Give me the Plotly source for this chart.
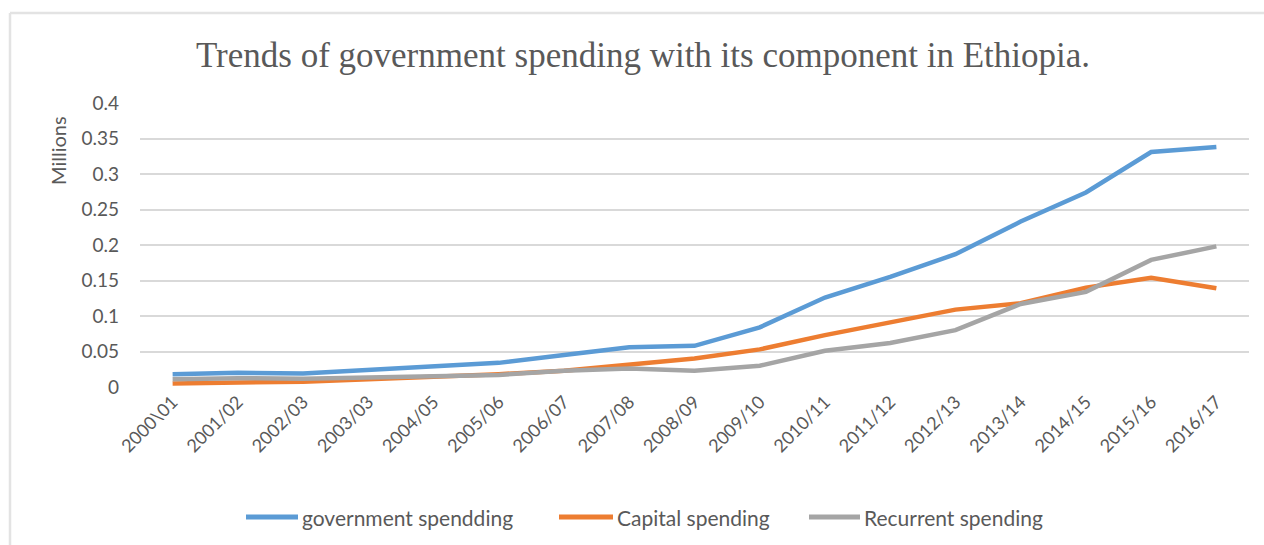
import plotly.graph_objects as go

# Fiscal years (Ethiopian budget years)
years = ["2000\\01", "2001/02", "2002/03", "2003/03", "2004/05", "2005/06",
         "2006/07", "2007/08", "2008/09", "2009/10", "2010/11", "2011/12",
         "2012/13", "2013/14", "2014/15", "2015/16", "2016/17"]

# Spending, in millions
government_spending = [0.018, 0.020, 0.019, 0.024, 0.028, 0.034, 0.045, 0.056, 0.058,
                       0.084, 0.126, 0.155, 0.187, 0.233, 0.274, 0.331, 0.338]
capital_spending = [0.005, 0.0055, 0.0075, 0.011, 0.014, 0.018, 0.023, 0.031, 0.040,
                    0.053, 0.073, 0.091, 0.109, 0.118, 0.140, 0.154, 0.139]
recurrent_spending = [0.011, 0.0125, 0.0115, 0.014, 0.015, 0.017, 0.023, 0.026, 0.023,
                      0.030, 0.051, 0.062, 0.080, 0.117, 0.134, 0.179, 0.198]

y_ticks = [0, 0.05, 0.1, 0.15, 0.2, 0.25, 0.3, 0.35, 0.4]

series_names = ["government spendding", "Capital spending", "Recurrent spending"]
series_colors = ["#5B9BD5", "#ED7D31", "#A5A5A5"]
series_values = [government_spending, capital_spending, recurrent_spending]

W, H = 1264, 545
L, R, T, B = 140, 15, 103, 158
pw, ph = W - L - R, H - T - B

def px_x(x):
    return (x - L) / pw

def px_y(y):
    return (H - B - y) / ph

text_col = "#595959"
font_ui = "Lato, Open Sans, sans-serif"

fig = go.Figure()
for name, vals, col in zip(series_names, series_values, series_colors):
    fig.add_trace(go.Scatter(x=years, y=vals, name=name, mode="lines",
                             line=dict(color=col, width=4.5), showlegend=False))

# Legend row at the bottom: swatch line + label for each series
legend_rows = [(246, 298), (559, 613), (809, 860)]
legend_y = 517
shapes = []
annotations = []
for (x0, x1), name, col in zip(legend_rows, series_names, series_colors):
    shapes.append(dict(type="line", xref="paper", yref="paper",
                       x0=px_x(x0), x1=px_x(x1), y0=px_y(legend_y), y1=px_y(legend_y),
                       line=dict(color=col, width=5)))
    annotations.append(dict(text=name, x=px_x(x1 + 2), y=px_y(legend_y),
                            xref="paper", yref="paper", xanchor="left", yanchor="middle",
                            showarrow=False,
                            font=dict(family=font_ui, size=21, color=text_col)))

# Chart frame (top and left edges visible)
shapes.append(dict(type="line", xref="paper", yref="paper", x0=px_x(10), x1=px_x(W + 5),
                   y0=px_y(13), y1=px_y(13), line=dict(color="#e3e3e3", width=2.5)))
shapes.append(dict(type="line", xref="paper", yref="paper", x0=px_x(10), x1=px_x(10),
                   y0=px_y(13), y1=px_y(H + 5), line=dict(color="#e3e3e3", width=2.5)))

annotations.append(dict(text="Millions", textangle=-90, x=px_x(58), y=px_y(151),
                        xref="paper", yref="paper", xanchor="center", yanchor="middle",
                        showarrow=False,
                        font=dict(family=font_ui, size=20, color=text_col)))

fig.update_layout(
    width=W, height=H,
    margin=dict(l=L, r=R, t=T, b=B),
    paper_bgcolor="white", plot_bgcolor="white",
    title=dict(text="Trends of government spending with its component in Ethiopia.",
               font=dict(family="Liberation Serif, Times New Roman, serif", size=35, color=text_col),
               x=643 / W, xanchor="center", y=1 - 55 / H, yanchor="middle"),
    xaxis=dict(type="category", tickangle=-45, showgrid=False, showline=False, zeroline=False,
               ticks="", tickfont=dict(family=font_ui, size=18, color=text_col),
               range=[-0.5, len(years) - 0.5]),
    yaxis=dict(range=[0, 0.4], tickvals=y_ticks, ticktext=[f"{v:g}" for v in y_ticks],
               showgrid=True, gridcolor="#d9d9d9", gridwidth=1.5, zeroline=False,
               showline=False, ticks="", ticklabelstandoff=20,
               tickfont=dict(family=font_ui, size=19, color=text_col)),
    showlegend=False,
    annotations=annotations,
    shapes=shapes,
)

fig.write_html("out.html")
